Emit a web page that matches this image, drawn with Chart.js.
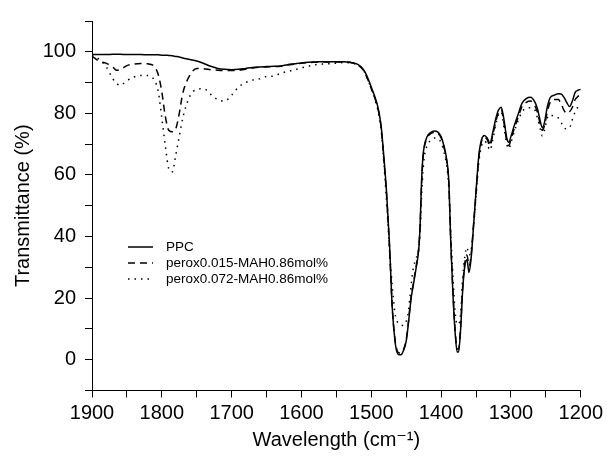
<!DOCTYPE html>
<html>
<head>
<meta charset="utf-8">
<script src="https://cdn.jsdelivr.net/npm/chart.js@4/dist/chart.umd.min.js"></script>
<style>
html,body{margin:0;padding:0;background:#fff;}
canvas{display:block;}
</style>
</head>
<body>
<canvas id="c" width="607" height="458"></canvas>
<script>
const wavenumbers = [1900,1890,1880,1870,1865,1860,1850,1840,1830,1820,1810,1805,1800,1795,1790,1785,1780,1775,1770,1760,1750,1740,1730,1720,1710,1700,1690,1680,1670,1660,1650,1640,1630,1620,1610,1600,1590,1580,1570,1560,1550,1540,1530,1520,1515,1510,1505,1500,1495,1490,1486,1482,1478,1474,1470,1466,1463,1460,1457,1454,1450,1447,1443,1440,1436,1432,1430,1428,1426,1424,1420,1415,1410,1405,1400,1396,1392,1389,1386,1383,1380,1377,1375,1372,1369,1366,1363,1360,1357,1354,1350,1346,1342,1338,1334,1330,1326,1322,1318,1314,1310,1306,1303,1300,1296,1290,1284,1278,1272,1266,1262,1258,1255,1252,1248,1244,1238,1232,1228,1224,1220,1216,1212,1208,1204,1200];

const ppc = [99.1,99.1,99.1,99.2,99.2,99.2,99.1,99.1,99.1,99.0,99.0,99.0,98.9,98.9,98.8,98.7,98.5,98.3,98.0,97.5,97.0,96.2,95.3,94.6,94.3,94.2,94.3,94.6,94.9,95.1,95.2,95.3,95.4,95.8,96.1,96.4,96.6,96.7,96.8,96.8,96.8,96.8,96.6,96.0,95.2,93.8,91.5,88.5,85.5,81.5,76,66,54,38,17,6,2.3,1.6,1.7,2.9,6,11.4,19.8,24,29.5,36,44,58,66,69.5,72.5,73.8,74.3,74,72.5,69.5,65,58,37,21,9,2.5,2.5,10,23,30.5,32.5,28.3,33,42,54.7,66.3,71.5,72.8,72,70.4,73.8,78,81,82,78,72,70.6,72.5,75.5,79.5,83.3,84.8,85.2,83.8,81.5,77.5,75.3,77,82,85,85.9,86.4,86.3,85.2,83.5,82.2,84,86.8,87.5,87.8];

const perox015 = [98.6,97.0,96.3,95.0,94.0,94.2,95.5,96.0,96.2,96.1,95.0,92.5,87,79,74.5,74,75,80,86.5,92.3,94.6,94.5,94.2,94.0,93.9,93.9,94.0,94.3,94.7,95.0,95.1,95.2,95.3,95.7,96.0,96.3,96.5,96.6,96.7,96.7,96.7,96.7,96.5,95.8,95.0,93.5,91,88,85,81,75.5,65,53,37,17,6.5,3,2.2,2.2,3.2,6.5,12,20.5,24.5,30,36.5,44,57,65,69,72,73.4,73.8,73.5,72,69,64.5,57.5,37.5,22,10,3.5,3.5,11,24,31.5,34,30.5,34,42.5,54,65.5,71,72.3,71.5,69.5,73,77,80.3,81.3,77,71,69.5,71.5,74.5,78.5,82.3,83.6,84,82.6,80.3,76.5,74.5,76,80.5,83.5,84.5,84.5,83,81,80,80.5,82,84.5,85.5,86];

const perox072 = [98.9,97.6,95.2,91.2,89.8,89.1,90.6,91.8,92.3,92.3,90.5,87,78.5,69.5,62,61,66.5,72.5,78.5,85.5,87.8,88,86.2,84.5,84,85.9,88.6,90,90.8,91.2,92,92.1,93,93.6,94.1,94.8,95.3,95.8,96.0,96.1,96.3,96.5,96.4,95.8,95.0,93.5,91,88,84.8,80.5,75,64,51,36,24,15,12.5,11.5,11.2,11.1,12.5,15.5,24,29.5,32.8,36,42,53,61,66,69.5,71.3,72,71.8,70.5,67.5,63,56,40,27,15.5,11.5,11.5,15,27,33.5,36.5,34,35.5,42,53,64,69.5,71,70,68,71.5,76,79.5,80.5,75.5,70,68.5,70.5,73.5,77.5,80.5,81.7,81.8,81.2,78.5,75,72.7,74.5,78.5,79.5,79,78.5,77,75.3,75,75.3,78,80.5,82,82.8];

const seriesLabels = ['PPC','perox0.015-MAH0.86mol%','perox0.072-MAH0.86mol%'];
const yTickLabels = [0,20,40,60,80,100];
const xTickLabels = [1900,1800,1700,1600,1500,1400,1300,1200];

const FONT = "'Liberation Sans', Arial, 'DejaVu Sans', sans-serif";

function pts(vals){ return wavenumbers.map((w,i)=>({x:w,y:vals[i]})); }

const legendPlugin = {
  id: 'inlineLegend',
  afterDatasetsDraw(chart, args, opts){
    const ctx = chart.ctx;
    ctx.save();
    chart.data.datasets.forEach((ds,i)=>{
      const y = opts.y0 + i*opts.dy;
      ctx.beginPath();
      ctx.strokeStyle = '#000';
      ctx.lineWidth = ds.borderWidth;
      ctx.setLineDash(ds.borderDash || []);
      ctx.moveTo(opts.x0, y);
      ctx.lineTo(opts.x1, y);
      ctx.stroke();
      ctx.setLineDash([]);
      ctx.fillStyle = '#000';
      ctx.font = opts.fontSize + 'px ' + FONT;
      ctx.textBaseline = 'middle';
      ctx.textAlign = 'left';
      ctx.fillText(ds.label, opts.tx, y);
    });
    ctx.restore();
  }
};

new Chart(document.getElementById('c'), {
  type: 'line',
  data: {
    datasets: [
      {label: seriesLabels[0], data: pts(ppc), borderColor:'#000', borderWidth:1.5, pointRadius:0, cubicInterpolationMode:'monotone'},
      {label: seriesLabels[1], data: pts(perox015), borderColor:'#000', borderWidth:1.5, borderDash:[7,5], pointRadius:0, cubicInterpolationMode:'monotone'},
      {label: seriesLabels[2], data: pts(perox072), borderColor:'#000', borderWidth:1.5, borderDash:[1.5,5], pointRadius:0, cubicInterpolationMode:'monotone'}
    ]
  },
  options: {
    responsive: false,
    animation: false,
    layout: {padding: {top: 12.5, right: 25, left: 0, bottom: 0}},
    plugins: {
      legend: {display:false},
      tooltip: {enabled:false},
      inlineLegend: {x0:128, x1:153, tx:166, y0:247, dy:16, fontSize:13.5}
    },
    scales: {
      x: {
        type: 'linear', reverse: true, min: 1200, max: 1900,
        afterFit(s){ s.height = 67.5; },
        border: {display:true, color:'#000', width:1},
        grid: {drawOnChartArea:false, drawTicks:true, tickLength:7, color:'#000'},
        ticks: {
          stepSize: 50, autoSkip:false, maxRotation:0, padding:4, color:'#000',
          font: {family: FONT, size: 20},
          callback(v){ return xTickLabels.includes(v) ? String(v) : ''; }
        },
        title: {display:true, text:'Wavelength (cm\u207B\u00B9)', color:'#000', font:{family:FONT, size:20}, padding:{top:0,bottom:6}}
      },
      y: {
        type: 'linear', min: -10, max: 110,
        afterFit(s){ s.width = 92; },
        border: {display:true, color:'#000', width:1},
        grid: {drawOnChartArea:false, drawTicks:true, tickLength:7, color:'#000'},
        ticks: {
          stepSize: 10, autoSkip:false, padding:9, color:'#000',
          font: {family: FONT, size: 20},
          callback(v){ return yTickLabels.includes(v) ? String(v) : ''; }
        },
        title: {display:true, text:'Transmittance (%)', color:'#000', font:{family:FONT, size:20}, padding:{top:11,bottom:0}}
      }
    }
  },
  plugins: [legendPlugin]
});
</script>
</body>
</html>
